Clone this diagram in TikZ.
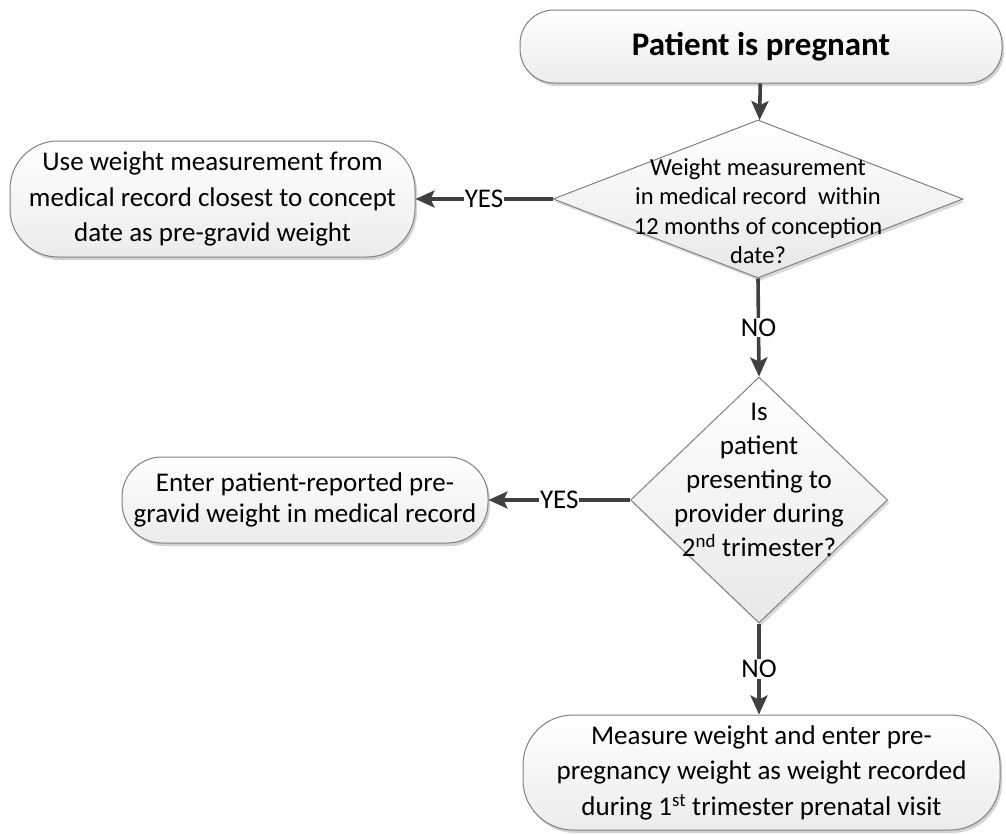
\documentclass[tikz,border=0pt]{standalone}
\usepackage{fontspec}
\setmainfont{Carlito}
\usetikzlibrary{shapes.geometric,arrows.meta,shadows}

\definecolor{flowgray}{HTML}{404040}
\definecolor{edgegray}{HTML}{808080}

\begin{document}
\begin{tikzpicture}[x=1pt, y=-1pt,
    every node/.style={font=\fontsize{27}{35.5}\selectfont},
    box/.style={draw=edgegray, line width=1pt, rounded corners=#1,
      top color=white, bottom color=gray!15, align=center, inner sep=0pt,
      drop shadow={shadow xshift=2pt, shadow yshift=-3pt, fill=gray, opacity=0.35}},
    box/.default=40pt,
    decision/.style={diamond, draw=edgegray, line width=1pt, inner sep=0pt,
      top color=white, bottom color=gray!18,
      drop shadow={shadow xshift=2pt, shadow yshift=-3pt, fill=gray, opacity=0.3}},
    qtext/.style={align=center, inner sep=0pt},
    flow/.style={draw=flowgray, line width=3.6pt, -{Stealth[length=19pt, width=17pt, inset=4pt]}},
    lbl/.style={fill=white, inner sep=1pt, font=\fontsize{27}{30}\selectfont}]

  \useasboundingbox (0,0) rectangle (1006,833);

  %%%%%%%%%%%%%%%%%%%%%%%%%%%%%%%%%%%%%%%%%%%%%%%%%
  % Start
  \node[box=34pt, minimum width=482pt, minimum height=73pt,
        font=\fontsize{33}{38}\selectfont\bfseries] (pregnant) at (761,46.5) {Patient is pregnant};

  %%%%%%%%%%%%%%%%%%%%%%%%%%%%%%%%%%%%%%%%%%%%%%%%%
  % First question
  \node[decision, minimum width=410pt, minimum height=158pt] (recordq) at (758,199) {};
  \node[qtext, font=\fontsize{24.5}{29.5}\selectfont, yshift=-12pt] (recordqText) at (recordq)
    {Weight measurement\\in medical record\ \ within\\12 months of conception\\date?};

  \node[box=48pt, minimum width=405pt, minimum height=116pt] (useRecord) at (212.5,199)
    {Use weight measurement from\\medical record closest to concept\\date as pre-gravid weight};

  %%%%%%%%%%%%%%%%%%%%%%%%%%%%%%%%%%%%%%%%%%%%%%%%%
  % Second question
  \node[decision, minimum width=257pt, minimum height=246pt] (secondq) at (759,500) {};
  \node[qtext, font=\fontsize{27}{34}\selectfont, yshift=20pt] (secondqText) at (secondq)
    {Is\\patient\\presenting to\\provider during\\2\textsuperscript{nd} trimester?};

  \node[box=40pt, minimum width=366pt, minimum height=86pt,
        font=\fontsize{27}{31}\selectfont] (enterReported) at (305,500)
    {Enter patient-reported pre-\\gravid weight in medical record};

  %%%%%%%%%%%%%%%%%%%%%%%%%%%%%%%%%%%%%%%%%%%%%%%%%
  % Last step
  \node[box=50pt, minimum width=477pt, minimum height=115pt] (measure) at (761.5,772.5)
    {Measure weight and enter pre-\\pregnancy weight as weight recorded\\during 1\textsuperscript{st} trimester prenatal visit};

  %%%%%%%%%%%%%%%%%%%%%%%%%%%%%%%%%%%%%%%%%%%%%%%%%
  % Connectors
  \draw[flow] (pregnant) -- (recordq);
  \draw[flow] (recordq.west) -- node[lbl] (yesA) {YES} (useRecord.east);
  \draw[flow] (recordq.south) -- node[lbl] (noA) {NO} (secondq.north);
  \draw[flow] (secondq.west) -- node[lbl] (yesB) {YES} (enterReported.east);
  \draw[flow] (secondq.south) -- node[lbl] (noB) {NO} (measure.north -| secondq.south);

\end{tikzpicture}
\end{document}
